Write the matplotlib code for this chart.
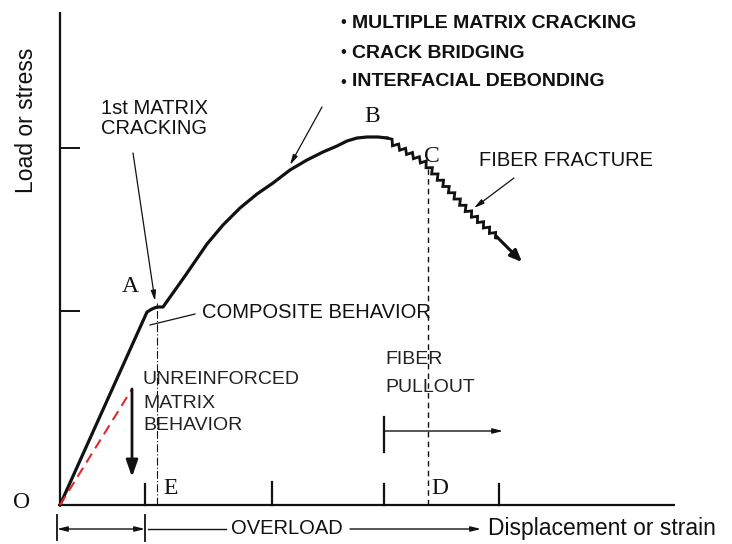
import numpy as np
import matplotlib
matplotlib.use("Agg")
import matplotlib.pyplot as plt

# drawing units: 1 unit = 1 px, origin at point O
load_x = [0, 87, 92, 97, 103, 125, 147, 163, 180, 197, 213, 230, 247, 263, 277, 287, 297, 307, 318, 327]
load_y = [0, 193, 196, 198, 198, 229, 261, 280, 297, 311, 322, 335, 345, 353, 359, 364, 367, 368, 368, 367]

fracture_x = [327, 334, 365, 407, 437]
fracture_y = [367, 361, 342, 295, 268]
fracture_end = (462, 243)

matrix_x = [0, 72]
matrix_y = [0, 116]

y_ticks = [194, 357]
x_ticks = [85, 212, 324, 439]
x_tick_len = [21, 23, 21, 21]

x_E, x_D = 97, 368
x_pullout = 324

bullets = ["MULTIPLE MATRIX CRACKING", "CRACK BRIDGING", "INTERFACIAL DEBONDING"]

SANS = "Liberation Sans"
SERIF = "Liberation Serif"
INK = "#111111"


def zigzag(xs, ys, step=4.0, amp=2.4):
    # saw-tooth look of the fibre-fracture branch
    pts = np.column_stack([xs, ys]).astype(float)
    out = [pts[0]]
    sign = 1
    for p0, p1 in zip(pts[:-1], pts[1:]):
        d = p1 - p0
        L = np.hypot(*d)
        u = d / L
        n = np.array([-u[1], u[0]])
        k = max(int(L // step), 1)
        for i in range(1, k + 1):
            q = p0 + d * i / k
            out.append(q + sign * amp * n)
            sign = -sign
    out.append(pts[-1])
    out = np.array(out)
    return out[:, 0], out[:, 1]


fig = plt.figure(figsize=(7.32, 5.44), dpi=100)
ax = fig.add_axes([0, 0, 1, 1])
ax.set_xlim(-60, 672)
ax.set_ylim(-39, 505)
ax.axis("off")

# axes frame
ax.plot([0, 0], [0, 493], color=INK, lw=1.6, solid_capstyle="butt")
ax.plot([-2, 615], [0, 0], color=INK, lw=1.6, solid_capstyle="butt")
for yt in y_ticks:
    ax.plot([0, 19], [yt, yt], color=INK, lw=1.4)
for xt, tl in zip(x_ticks, x_tick_len):
    ax.plot([xt, xt], [0, tl], color=INK, lw=1.6)

# main curve
ax.plot(load_x, load_y, color=INK, lw=2.3, solid_joinstyle="round")
zx, zy = zigzag(fracture_x, fracture_y)
ax.plot(zx, zy, color=INK, lw=2.0, solid_joinstyle="miter")
ax.annotate("", xy=fracture_end, xytext=(fracture_x[-1], fracture_y[-1]),
            arrowprops=dict(arrowstyle="-|>,head_length=0.7,head_width=0.3",
                            color=INK, lw=2.2, shrinkA=0, shrinkB=0))

# unreinforced matrix
ax.plot(matrix_x, matrix_y, color="#e0282e", lw=1.5, ls=(0, (5, 3)))
ax.annotate("", xy=(matrix_x[-1], 28), xytext=(matrix_x[-1], matrix_y[-1]),
            arrowprops=dict(arrowstyle="-|>,head_length=1.0,head_width=0.35",
                            color=INK, lw=2.0, shrinkA=0, shrinkB=0))

# E and D guides
ax.plot([x_E, x_E], [0, 202], color=INK, lw=0.8, ls=(0, (7, 2, 1, 2)))
ax.plot([x_D, x_D], [0, 340], color=INK, lw=1.0, ls=(0, (4, 3)))

# fibre pullout marker
ax.plot([x_pullout, x_pullout], [53, 88], color=INK, lw=1.6)
ax.annotate("", xy=(443, 74), xytext=(x_pullout, 74),
            arrowprops=dict(arrowstyle="-|>,head_length=0.6,head_width=0.15",
                            color=INK, lw=1.0, shrinkA=0, shrinkB=0))

# bottom dimension line
ax.plot([-3, -3], [-10, -35], color=INK, lw=1.3)
ax.plot([85, 85], [-10, -36], color=INK, lw=1.3)
ax.annotate("", xy=(-3, -24), xytext=(85, -24),
            arrowprops=dict(arrowstyle="<|-|>,head_length=0.6,head_width=0.15",
                            color=INK, lw=1.0, shrinkA=0, shrinkB=0))
ax.plot([88, 166], [-24, -24], color=INK, lw=1.0)
ax.annotate("", xy=(421, -24), xytext=(290, -24),
            arrowprops=dict(arrowstyle="-|>,head_length=0.6,head_width=0.15",
                            color=INK, lw=1.0, shrinkA=0, shrinkB=0))
ax.text(227, -24, "OVERLOAD", family=SANS, fontsize=14.5, color=INK,
        ha="center", va="center")
ax.text(428, -24, "Displacement or strain", family=SANS, fontsize=16.5,
        color=INK, ha="left", va="center")
ax.text(-33, 385, "Load or stress", family=SANS, fontsize=16.5, color=INK,
        rotation=90, ha="center", va="center")

# point letters
for lbl, (px, py) in {"O": (-38, 2), "A": (70, 218), "B": (312, 388),
                      "C": (372, 348), "D": (380, 17), "E": (111, 17)}.items():
    ax.text(px, py, lbl, family=SERIF, fontsize=17, color=INK,
            ha="center", va="center")

# annotations
for s, yy in zip(bullets, [482, 452, 423]):
    ax.text(283, yy, "\u2022", family=SANS, fontsize=12, color=INK,
            ha="center", va="center")
    ax.text(292, yy, s, family=SANS, fontsize=14, weight="bold", color=INK,
            ha="left", va="center")
ax.annotate("", xy=(230, 340), xytext=(262, 398),
            arrowprops=dict(arrowstyle="-|>,head_length=0.6,head_width=0.15",
                            color=INK, lw=0.9, shrinkA=0, shrinkB=0))

ax.text(41, 397, "1st MATRIX", family=SANS, fontsize=14.5, color=INK,
        ha="left", va="center")
ax.text(41, 377, "CRACKING", family=SANS, fontsize=14.5, color=INK,
        ha="left", va="center")
ax.annotate("", xy=(95, 204), xytext=(73, 352),
            arrowprops=dict(arrowstyle="-|>,head_length=0.6,head_width=0.15",
                            color=INK, lw=0.9, shrinkA=0, shrinkB=0))

ax.text(419, 344, "FIBER FRACTURE", family=SANS, fontsize=14.5, color=INK,
        ha="left", va="center")
ax.annotate("", xy=(414, 297), xytext=(454, 327),
            arrowprops=dict(arrowstyle="-|>,head_length=0.6,head_width=0.15",
                            color=INK, lw=0.9, shrinkA=0, shrinkB=0))

ax.text(142, 193, "COMPOSITE BEHAVIOR", family=SANS, fontsize=14.5, color=INK,
        ha="left", va="center")
ax.plot([135, 90], [191, 180], color=INK, lw=0.9)

for s, yy in zip(["UNREINFORCED", "MATRIX", "BEHAVIOR"], [125, 101, 80]):
    ax.text(83, yy, s, family=SANS, fontsize=14, color="#222222",
            ha="left", va="center")
for s, yy in zip(["FIBER", "PULLOUT"], [145, 117]):
    ax.text(325, yy, s, family=SANS, fontsize=14, color="#222222",
            ha="left", va="center")

fig.savefig("out.png", dpi=100)
